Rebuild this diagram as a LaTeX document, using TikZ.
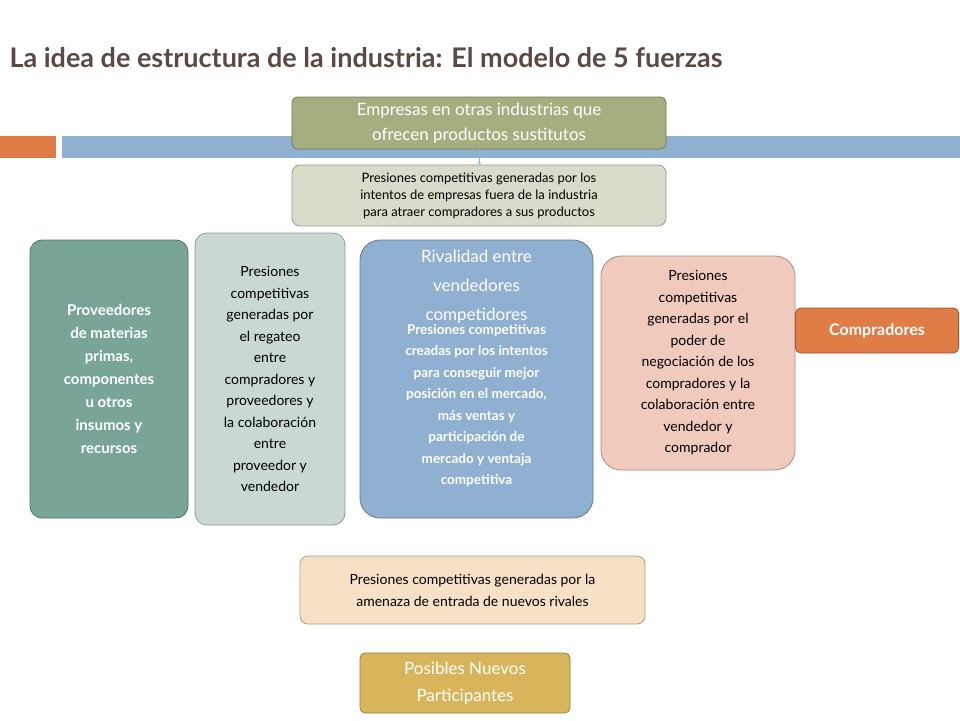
\documentclass[tikz,border=0pt]{standalone}
\usepackage{fontspec}
\setmainfont{Lato}
\begin{document}
\begin{tikzpicture}[x=1pt,y=1pt,
  bx/.style={draw=#1!70!black, rounded corners=12pt, line width=0.8pt, align=center, inner sep=2pt},
  sm/.style={font=\fontsize{13}{17}\selectfont},
  wt/.style={text=white, font=\bfseries\fontsize{15}{23}\selectfont}]
\definecolor{olv}{HTML}{A5AE7F}
\definecolor{olvl}{HTML}{D9DCCB}
\definecolor{grn}{HTML}{78A597}
\definecolor{grnl}{HTML}{C9D9D1}
\definecolor{blu}{HTML}{8FB0D1}
\definecolor{pnk}{HTML}{F1CABE}
\definecolor{org}{HTML}{E07C45}
\definecolor{bge}{HTML}{F7E1C6}
\definecolor{gld}{HTML}{D8B55B}
\definecolor{ttl}{HTML}{5B4A44}
\useasboundingbox[fill=white] (0,0) rectangle (960,-720);
\node[anchor=west, text=ttl, font=\bfseries\fontsize{27}{30}\selectfont] (title) at (6,-58) {La idea de estructura de la industria: El modelo de 5 fuerzas};
\fill[org] (0,-136) rectangle (56,-158);
\fill[blu] (62,-136) rectangle (960,-158);
\node[bx=olv, fill=olv, minimum width=374, minimum height=52, text=white, font=\fontsize{17}{25}\selectfont, rounded corners=6pt] (sust) at (479,-123) {Empresas en otras industrias que\\ofrecen productos sustitutos};
\node[bx=olvl, fill=olvl, minimum width=374, minimum height=61, sm, rounded corners=8pt] (psust) at (479,-195.5) {Presiones competitivas generadas por los\\intentos de empresas fuera de la industria\\para atraer compradores a sus productos};
\draw[->, blu, line width=0.6pt] (sust.south) -- (psust.north);
\node[bx=grn, fill=grn, minimum width=158, minimum height=278, wt] (prov) at (109,-379) {Proveedores\\de materias\\primas,\\componentes\\u otros\\insumos y\\recursos};
\node[bx=grnl, fill=grnl, minimum width=150, minimum height=292, font=\fontsize{14}{21.5}\selectfont] (pprov) at (270,-379) {Presiones\\competitivas\\generadas por\\el regateo\\entre\\compradores y\\proveedores y\\la colaboración\\entre\\proveedor y\\vendedor};
\node[bx=blu, fill=blu, minimum width=233, minimum height=278, rounded corners=20pt] (riv) at (476.5,-379) {};
\node[anchor=north, align=center, text=white, font=\fontsize{17}{29}\selectfont, inner sep=0pt] (rivt) at (476.5,-250) {Rivalidad entre\\vendedores\\competidores};
\node[anchor=north, align=center, text=white, font=\bfseries\fontsize{13.5}{21.5}\selectfont, inner sep=0pt] (rivb) at (rivt.south) {Presiones competitivas\\creadas por los intentos\\para conseguir mejor\\posición en el mercado,\\más ventas y\\participación de\\mercado y ventaja\\competitiva};
\node[bx=pnk, fill=pnk, minimum width=194, minimum height=214, font=\fontsize{14}{21.5}\selectfont, rounded corners=20pt] (pcomp) at (698,-363) {Presiones\\competitivas\\generadas por el\\poder de\\negociación de los\\compradores y la\\colaboración entre\\vendedor y\\comprador};
\node[bx=org, fill=org, minimum width=163, minimum height=45, text=white, font=\bfseries\fontsize{16}{20}\selectfont, rounded corners=5pt] (comp) at (877,-330.5) {Compradores};
\node[bx=bge, fill=bge, minimum width=345, minimum height=68, font=\fontsize{14}{22}\selectfont, rounded corners=8pt] (pnue) at (472.5,-590) {Presiones competitivas generadas por la\\amenaza de entrada de nuevos rivales};
\node[bx=gld, fill=gld, minimum width=210, minimum height=60, text=white, font=\fontsize{17}{27}\selectfont, rounded corners=5pt] (nue) at (465,-683) {Posibles Nuevos\\Participantes};
\end{tikzpicture}
\end{document}
